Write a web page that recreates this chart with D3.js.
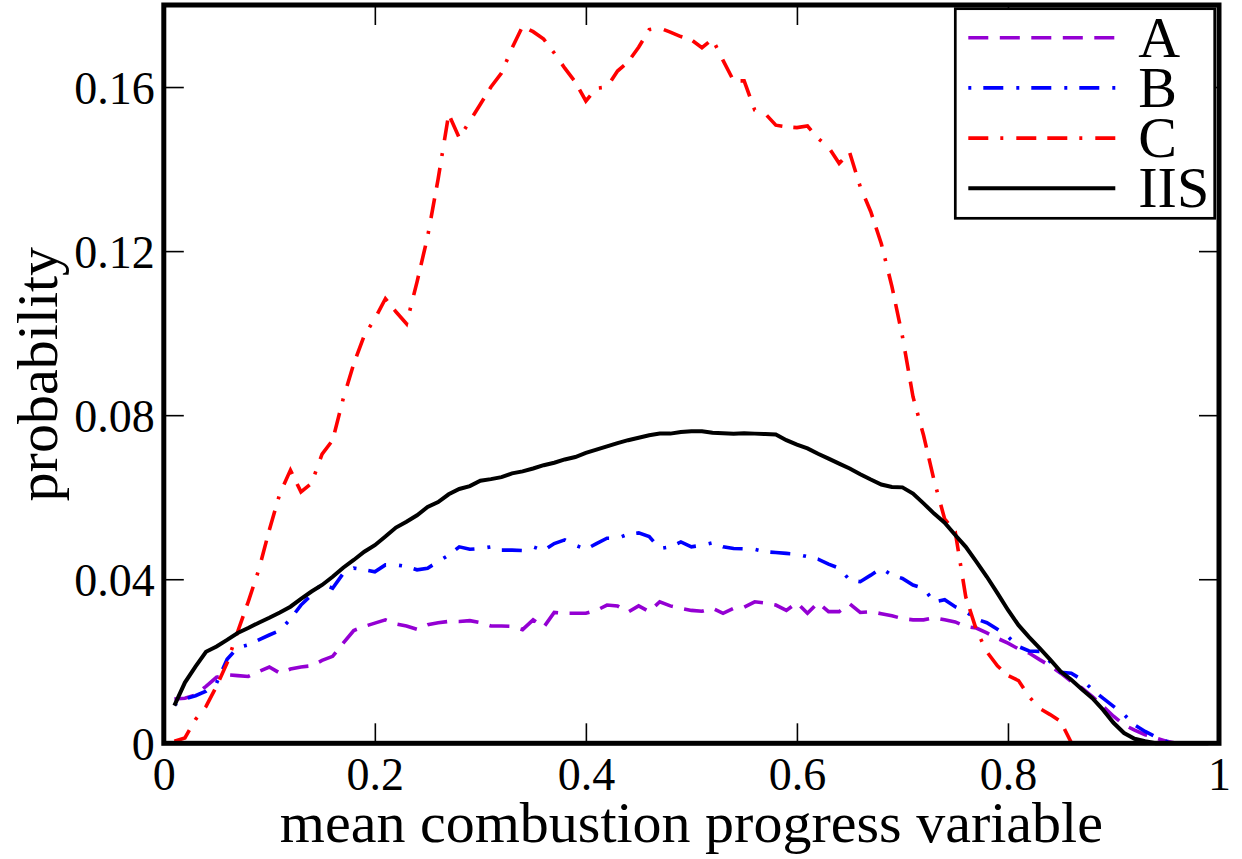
<!DOCTYPE html>
<html>
<head>
<meta charset="utf-8">
<script src="https://cdn.jsdelivr.net/npm/d3@7"></script>
<style>
  body { margin: 0; background: #fff; }
  svg { display: block; font-family: "Liberation Serif", "Times New Roman", serif; }
</style>
</head>
<body>
<div id="chart"></div>
<script>
// bin centres (mean combustion progress variable)
const xs = [0.01, 0.02, 0.03, 0.04, 0.05, 0.06, 0.07, 0.08, 0.09, 0.10,
    0.11, 0.12, 0.13, 0.14, 0.15, 0.16, 0.17, 0.18, 0.19, 0.20,
    0.21, 0.22, 0.23, 0.24, 0.25, 0.26, 0.27, 0.28, 0.29, 0.30,
    0.31, 0.32, 0.33, 0.34, 0.35, 0.36, 0.37, 0.38, 0.39, 0.40,
    0.41, 0.42, 0.43, 0.44, 0.45, 0.46, 0.47, 0.48, 0.49, 0.50,
    0.51, 0.52, 0.53, 0.54, 0.55, 0.56, 0.57, 0.58, 0.59, 0.60,
    0.61, 0.62, 0.63, 0.64, 0.65, 0.66, 0.67, 0.68, 0.69, 0.70,
    0.71, 0.72, 0.73, 0.74, 0.75, 0.76, 0.77, 0.78, 0.79, 0.80,
    0.81, 0.82, 0.83, 0.84, 0.85, 0.86, 0.87, 0.88, 0.89, 0.90,
    0.91, 0.92, 0.93, 0.94, 0.95, 0.96, 0.97, 0.98, 0.99];

// probability per bin
const probA = [0.0108, 0.0110, 0.0118, 0.0139, 0.0161, 0.0167, 0.0165, 0.0163, 0.0175, 0.0186,
    0.0171, 0.0181, 0.0186, 0.0189, 0.0202, 0.0212, 0.0244, 0.0275, 0.0285, 0.0293,
    0.0301, 0.0291, 0.0286, 0.0278, 0.0289, 0.0294, 0.0297, 0.0297, 0.0299, 0.0294,
    0.0286, 0.0286, 0.0285, 0.0277, 0.0301, 0.0283, 0.0319, 0.0317, 0.0317, 0.0317,
    0.0324, 0.0337, 0.0335, 0.0320, 0.0335, 0.0321, 0.0345, 0.0335, 0.0329, 0.0324,
    0.0322, 0.0329, 0.0317, 0.0329, 0.0332, 0.0345, 0.0342, 0.0337, 0.0324, 0.0343,
    0.0317, 0.0343, 0.0321, 0.0321, 0.0340, 0.0319, 0.0321, 0.0316, 0.0311, 0.0304,
    0.0301, 0.0301, 0.0306, 0.0301, 0.0296, 0.0285, 0.0281, 0.0269, 0.0256, 0.0244,
    0.0230, 0.0220, 0.0204, 0.0189, 0.0171, 0.0151, 0.0135, 0.0114, 0.0090, 0.0066,
    0.0045, 0.0032, 0.0021, 0.0013, 0.0005, 0, 0, 0, 0];

const probB = [0.0094, 0.0108, 0.0116, 0.0127, 0.0147, 0.0205, 0.0233, 0.0240, 0.0252, 0.0264,
    0.0275, 0.0303, 0.0337, 0.0362, 0.0390, 0.0378, 0.0414, 0.0427, 0.0423, 0.0418,
    0.0435, 0.0435, 0.0431, 0.0423, 0.0427, 0.0443, 0.0459, 0.0479, 0.0473, 0.0475,
    0.0479, 0.0471, 0.0471, 0.0470, 0.0479, 0.0470, 0.0487, 0.0496, 0.0483, 0.0473,
    0.0487, 0.0500, 0.0500, 0.0510, 0.0513, 0.0504, 0.0475, 0.0479, 0.0491, 0.0479,
    0.0483, 0.0489, 0.0479, 0.0475, 0.0474, 0.0473, 0.0467, 0.0465, 0.0463, 0.0461,
    0.0455, 0.0449, 0.0437, 0.0427, 0.0398, 0.0394, 0.0410, 0.0427, 0.0410, 0.0402,
    0.0386, 0.0378, 0.0345, 0.0350, 0.0333, 0.0321, 0.0303, 0.0294, 0.0278, 0.0260,
    0.0236, 0.0225, 0.0224, 0.0199, 0.0173, 0.0171, 0.0155, 0.0131, 0.0110, 0.0090,
    0.0070, 0.0045, 0.0029, 0.0016, 0.0005, 0, 0, 0, 0];

const probC = [0.0005, 0.0013, 0.0058, 0.0090, 0.0139, 0.0196, 0.0272, 0.0345, 0.0423, 0.0520,
    0.0609, 0.0666, 0.0613, 0.0634, 0.0705, 0.0739, 0.0840, 0.0925, 0.0994, 0.1035,
    0.1084, 0.1052, 0.1023, 0.1125, 0.1235, 0.1376, 0.1534, 0.1476, 0.1517, 0.1558,
    0.1600, 0.1634, 0.1695, 0.1748, 0.1735, 0.1717, 0.1683, 0.1646, 0.1612, 0.1566,
    0.1597, 0.1600, 0.1639, 0.1661, 0.1697, 0.1740, 0.1744, 0.1734, 0.1723, 0.1715,
    0.1696, 0.1717, 0.1665, 0.1615, 0.1615, 0.1544, 0.1535, 0.1507, 0.1503, 0.1501,
    0.1505, 0.1475, 0.1453, 0.1414, 0.1440, 0.1357, 0.1296, 0.1218, 0.1114, 0.0992,
    0.0845, 0.0751, 0.0641, 0.0547, 0.0516, 0.0357, 0.0277, 0.0223, 0.0189, 0.0165,
    0.0153, 0.0114, 0.0085, 0.0070, 0.0053, 0.0002, 0, 0, 0, 0,
    0, 0, 0, 0, 0, 0, 0, 0, 0];

const probIIS = [0.0092, 0.0148, 0.0187, 0.0223, 0.0236, 0.0252, 0.0269, 0.0281, 0.0294, 0.0306,
    0.0319, 0.0333, 0.0352, 0.0370, 0.0386, 0.0406, 0.0428, 0.0447, 0.0467, 0.0483,
    0.0504, 0.0526, 0.0540, 0.0556, 0.0576, 0.0588, 0.0607, 0.0620, 0.0627, 0.0640,
    0.0644, 0.0649, 0.0658, 0.0663, 0.0670, 0.0678, 0.0684, 0.0692, 0.0698, 0.0708,
    0.0716, 0.0724, 0.0732, 0.0739, 0.0745, 0.0751, 0.0755, 0.0755, 0.0759, 0.0761,
    0.0761, 0.0757, 0.0756, 0.0755, 0.0756, 0.0755, 0.0754, 0.0753, 0.0739, 0.0728,
    0.0719, 0.0706, 0.0694, 0.0682, 0.0670, 0.0656, 0.0643, 0.0631, 0.0625, 0.0624,
    0.0609, 0.0585, 0.0560, 0.0538, 0.0508, 0.0479, 0.0443, 0.0406, 0.0366, 0.0325,
    0.0288, 0.0259, 0.0232, 0.0204, 0.0175, 0.0155, 0.0132, 0.0110, 0.0082, 0.0050,
    0.0025, 0.0011, 0.0005, 0, 0, 0, 0, 0, 0];

const seriesNames = ["A", "B", "C", "IIS"];
const xTicks = [0, 0.2, 0.4, 0.6, 0.8, 1];
const yTicks = [0, 0.04, 0.08, 0.12, 0.16];

// line looks, in legend order
const styles = [
    { color: "#9400d3", dash: "20,11.5", width: 3.6 },
    { color: "#0000ff", dash: "3,12,20,13", width: 3.6 },
    { color: "#ff0000", dash: "20,12,3,13,20,11", width: 3.6 },
    { color: "#000000", dash: null, width: 4 }
];

const FONT_TICK = "46px";
const FONT_TITLE = "58px";

var margin = { top: 5, right: 23, bottom: 115.7, left: 163.8 },
    width = 1242 - margin.left - margin.right,
    height = 859 - margin.top - margin.bottom;

const svg = d3.select("#chart").append("svg")
    .attr("width", 1242)
    .attr("height", 859)
    .append("g")
    .attr("transform", "translate(" + margin.left + "," + margin.top + ")");

var x = d3.scaleLinear().domain([0, 1]).range([0, width]);
var y = d3.scaleLinear().domain([0, 0.18]).range([height, 0]);

function drawAxes() {
    // bottom, with labels
    const gb = svg.append("g")
        .attr("transform", "translate(0," + height + ")")
        .call(d3.axisBottom(x).tickValues(xTicks).tickFormat(d => String(d))
            .tickSizeInner(-20).tickSizeOuter(0));
    gb.selectAll("text").attr("dy", null).attr("y", 46.5);

    // left, with labels
    const gl = svg.append("g")
        .call(d3.axisLeft(y).tickValues(yTicks).tickFormat(d => String(d))
            .tickSizeInner(-20).tickSizeOuter(0));
    gl.selectAll("text").attr("dy", null).attr("x", -9).attr("y", 16);

    // top and right, ticks only
    svg.append("g")
        .call(d3.axisTop(x).tickValues(xTicks).tickFormat("")
            .tickSizeInner(-20).tickSizeOuter(0));
    svg.append("g")
        .attr("transform", "translate(" + width + ",0)")
        .call(d3.axisRight(y).tickValues(yTicks).tickFormat("")
            .tickSizeInner(-20).tickSizeOuter(0));

    svg.selectAll(".domain").remove();
    svg.selectAll(".tick line").attr("stroke", "#000").attr("stroke-width", 1.6);
    svg.selectAll(".tick text")
        .attr("fill", "#000")
        .style("font-family", "Liberation Serif")
        .style("font-size", FONT_TICK);
}

function drawLines() {
    const all = [probA, probB, probC, probIIS];
    var line = d3.line()
        .x(function (d, i) { return x(xs[i]); })
        .y(function (d) { return y(d); });

    all.forEach(function (vals, k) {
        svg.append("path")
            .datum(vals)
            .attr("fill", "none")
            .attr("stroke", styles[k].color)
            .attr("stroke-width", styles[k].width)
            .attr("stroke-dasharray", styles[k].dash)
            .attr("stroke-linejoin", "miter")
            .attr("d", line);
    });
}

function drawFrame() {
    svg.append("rect")
        .attr("x", 0).attr("y", 0)
        .attr("width", width).attr("height", height)
        .attr("fill", "none")
        .attr("stroke", "#000")
        .attr("stroke-width", 5);
}

function drawLegend() {
    const lg = svg.append("g")
        .attr("transform", "translate(" + (955.3 - margin.left) + "," + (8.7 - margin.top) + ")");

    lg.append("rect")
        .attr("width", 259.4).attr("height", 209.6)
        .attr("fill", "#fff")
        .attr("stroke", "#000")
        .attr("stroke-width", 2.7);

    seriesNames.forEach(function (name, k) {
        const ly = 29 + k * 50.2;
        lg.append("line")
            .attr("x1", 13).attr("x2", 160)
            .attr("y1", ly).attr("y2", ly)
            .attr("stroke", styles[k].color)
            .attr("stroke-width", styles[k].width)
            .attr("stroke-dasharray", styles[k].dash);
        lg.append("text")
            .attr("x", 183).attr("y", ly + 19)
            .style("font-size", FONT_TITLE)
            .text(name);
    });
}

function drawTitles() {
    svg.append("text")
        .attr("x", width / 2)
        .attr("y", 842 - margin.top)
        .attr("text-anchor", "middle")
        .style("font-size", FONT_TITLE)
        .text("mean combustion progress variable");

    svg.append("text")
        .attr("transform", "translate(" + (57 - margin.left) + "," + (height / 2) + ") rotate(-90)")
        .attr("text-anchor", "middle")
        .style("font-size", FONT_TITLE)
        .text("probability");
}

drawAxes();
drawLines();
drawFrame();
drawLegend();
drawTitles();
</script>
</body>
</html>
